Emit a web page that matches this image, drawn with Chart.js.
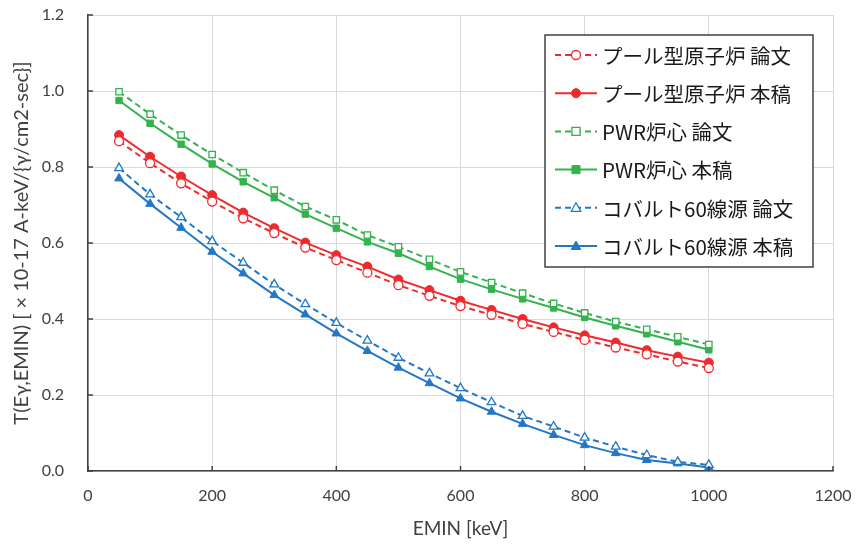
<!DOCTYPE html>
<html>
<head>
<meta charset="utf-8">
<script src="https://cdn.jsdelivr.net/npm/chart.js@4.4.0/dist/chart.umd.min.js"></script>
<style>
  body { margin: 0; background: #fff; }
  #wrap { width: 857px; height: 545px; }
</style>
</head>
<body>
<div id="wrap"><canvas id="chart" width="857" height="545"></canvas></div>
<script>
// EMIN [keV]
var emin = [50, 100, 150, 200, 250, 300, 350, 400, 450, 500, 550, 600, 650, 700, 750, 800, 850, 900, 950, 1000];

// T(Eγ,EMIN) values
var poolPaper = [0.868, 0.810, 0.757, 0.709, 0.665, 0.626, 0.588, 0.555, 0.522, 0.489, 0.461, 0.434, 0.411, 0.387, 0.366, 0.345, 0.325, 0.307, 0.288, 0.271];
var poolThis  = [0.884, 0.827, 0.775, 0.726, 0.680, 0.639, 0.601, 0.568, 0.538, 0.504, 0.476, 0.448, 0.424, 0.400, 0.378, 0.357, 0.338, 0.318, 0.301, 0.285];
var pwrPaper  = [0.998, 0.939, 0.884, 0.833, 0.785, 0.739, 0.696, 0.661, 0.621, 0.590, 0.557, 0.524, 0.496, 0.468, 0.441, 0.416, 0.393, 0.373, 0.353, 0.333];
var pwrThis   = [0.975, 0.915, 0.860, 0.808, 0.761, 0.719, 0.676, 0.639, 0.603, 0.573, 0.538, 0.505, 0.478, 0.453, 0.429, 0.404, 0.382, 0.361, 0.340, 0.319];
var coPaper   = [0.797, 0.728, 0.668, 0.605, 0.548, 0.491, 0.439, 0.390, 0.343, 0.298, 0.257, 0.218, 0.181, 0.145, 0.117, 0.088, 0.064, 0.042, 0.024, 0.016];
var coThis    = [0.770, 0.703, 0.640, 0.577, 0.520, 0.463, 0.412, 0.362, 0.316, 0.272, 0.231, 0.191, 0.156, 0.124, 0.095, 0.068, 0.047, 0.029, 0.020, 0.009];

var seriesNames = ["プール型原子炉 論文", "プール型原子炉 本稿", "PWR炉心 論文", "PWR炉心 本稿", "コバルト60線源 論文", "コバルト60線源 本稿"];
var xTitle = "EMIN [keV]";
var yTitle = "T(Eγ,EMIN) [ × 10-17 A-keV/{γ/cm2-sec}]";

var RED = "#ee2a2f", GREEN = "#33b24d", BLUE = "#2277c6";
var tickFont = { family: "Lato, 'Open Sans', sans-serif", size: 16 };
var jpFont = "'Noto Sans CJK JP', 'Noto Sans', sans-serif";

function pts(ys) {
    return emin.map(function (x, i) { return { x: x, y: ys[i] }; });
}

function series(name, ys, color, style, paper) {
    return {
        label: name,
        data: pts(ys),
        borderColor: color,
        backgroundColor: color,
        borderWidth: 2,
        borderDash: paper ? [6, 4] : [],
        pointStyle: style,
        pointRadius: style == "triangle" ? 5 : 4.5,
        pointBackgroundColor: paper ? "#fff" : color,
        pointBorderColor: color,
        pointBorderWidth: paper ? 1.3 : 1,
        tension: 0
    };
}

// small inside tick marks like the Excel original
var insideTicks = {
    id: "insideTicks",
    afterDraw: function (chart) {
        var ctx = chart.ctx, a = chart.chartArea;
        var xs = chart.scales.x, ys = chart.scales.y;
        ctx.save();
        ctx.strokeStyle = "#404040";
        ctx.lineWidth = 1.5;
        ctx.beginPath();
        xs.ticks.forEach(function (t) {
            var px = xs.getPixelForValue(t.value);
            ctx.moveTo(px, a.bottom);
            ctx.lineTo(px, a.bottom - 5);
        });
        ys.ticks.forEach(function (t) {
            var py = ys.getPixelForValue(t.value);
            ctx.moveTo(a.left, py);
            ctx.lineTo(a.left + 5, py);
        });
        ctx.stroke();
        ctx.restore();
    }
};

function drawMarker(ctx, style, r, x, y) {
    if (style == "circle") {
        ctx.arc(x, y, r, 0, Math.PI * 2);
    } else if (style == "rect") {
        ctx.rect(x - r * 0.9, y - r * 0.9, r * 1.8, r * 1.8);
    } else {
        ctx.moveTo(x, y - r);
        ctx.lineTo(x + r * 0.95, y + r * 0.7);
        ctx.lineTo(x - r * 0.95, y + r * 0.7);
        ctx.closePath();
    }
}

// boxed legend inside the plot, top right
var boxLegend = {
    id: "boxLegend",
    afterDraw: function (chart) {
        var ctx = chart.ctx;
        var bx = 545, by = 35, bw = 268, bh = 232, pitch = 38.2;
        ctx.save();
        ctx.fillStyle = "#fff";
        ctx.fillRect(bx, by, bw, bh);
        ctx.strokeStyle = "#404040";
        ctx.lineWidth = 1.5;
        ctx.strokeRect(bx, by, bw, bh);
        ctx.font = "20.5px " + jpFont;
        ctx.textBaseline = "middle";
        chart.data.datasets.forEach(function (ds, i) {
            var cy = by + 20 + i * pitch;
            ctx.strokeStyle = ds.borderColor;
            ctx.lineWidth = 2;
            ctx.setLineDash(ds.borderDash);
            ctx.beginPath();
            ctx.moveTo(bx + 10, cy);
            ctx.lineTo(bx + 52, cy);
            ctx.stroke();
            ctx.setLineDash([]);
            ctx.fillStyle = ds.pointBackgroundColor;
            ctx.strokeStyle = ds.pointBorderColor;
            ctx.lineWidth = ds.pointBorderWidth;
            ctx.beginPath();
            drawMarker(ctx, ds.pointStyle, ds.pointRadius, bx + 31, cy);
            ctx.fill();
            ctx.stroke();
            ctx.fillStyle = "#1a1a1a";
            ctx.fillText(ds.label, bx + 57, cy + 1);
        });
        ctx.restore();
    }
};

var chart = document.getElementById("chart").getContext("2d");

var Mchart = new Chart(chart, {
    type: "line",
    data: {
        datasets: [
            series(seriesNames[0], poolPaper, RED, "circle", true),
            series(seriesNames[1], poolThis, RED, "circle", false),
            series(seriesNames[2], pwrPaper, GREEN, "rect", true),
            series(seriesNames[3], pwrThis, GREEN, "rect", false),
            series(seriesNames[4], coPaper, BLUE, "triangle", true),
            series(seriesNames[5], coThis, BLUE, "triangle", false)
        ]
    },
    options: {
        responsive: false,
        animation: false,
        layout: { autoPadding: false, padding: { left: 0, right: 24, top: 15, bottom: 0 } },
        plugins: {
            legend: { display: false },
            tooltip: { enabled: false }
        },
        scales: {
            x: {
                type: "linear",
                min: 0,
                max: 1200,
                afterFit: function (s) { s.height = 74; s.paddingLeft = 0; s.paddingRight = 0; },
                ticks: {
                    stepSize: 200, font: tickFont, color: "#404040", padding: 15, maxRotation: 0,
                    callback: function (v) { return String(v); }
                },
                grid: { color: "#d9d9d9", drawTicks: false },
                border: { color: "#404040", width: 1.5 },
                title: { display: true, text: xTitle, color: "#404040", font: { family: tickFont.family, size: 19 }, padding: { top: 0, bottom: 5 } }
            },
            y: {
                min: 0,
                max: 1.2,
                afterFit: function (s) { s.width = 88; s.paddingTop = 0; s.paddingBottom = 0; },
                ticks: {
                    stepSize: 0.2, font: tickFont, color: "#404040", padding: 24,
                    callback: function (v) { return v.toFixed(1); }
                },
                grid: { color: "#d9d9d9", drawTicks: false },
                border: { color: "#404040", width: 1.5 },
                title: { display: true, text: yTitle, color: "#404040", font: { family: tickFont.family, size: 20 }, padding: { top: 10, bottom: 0 } }
            }
        }
    },
    plugins: [insideTicks, boxLegend]
});
</script>
</body>
</html>
